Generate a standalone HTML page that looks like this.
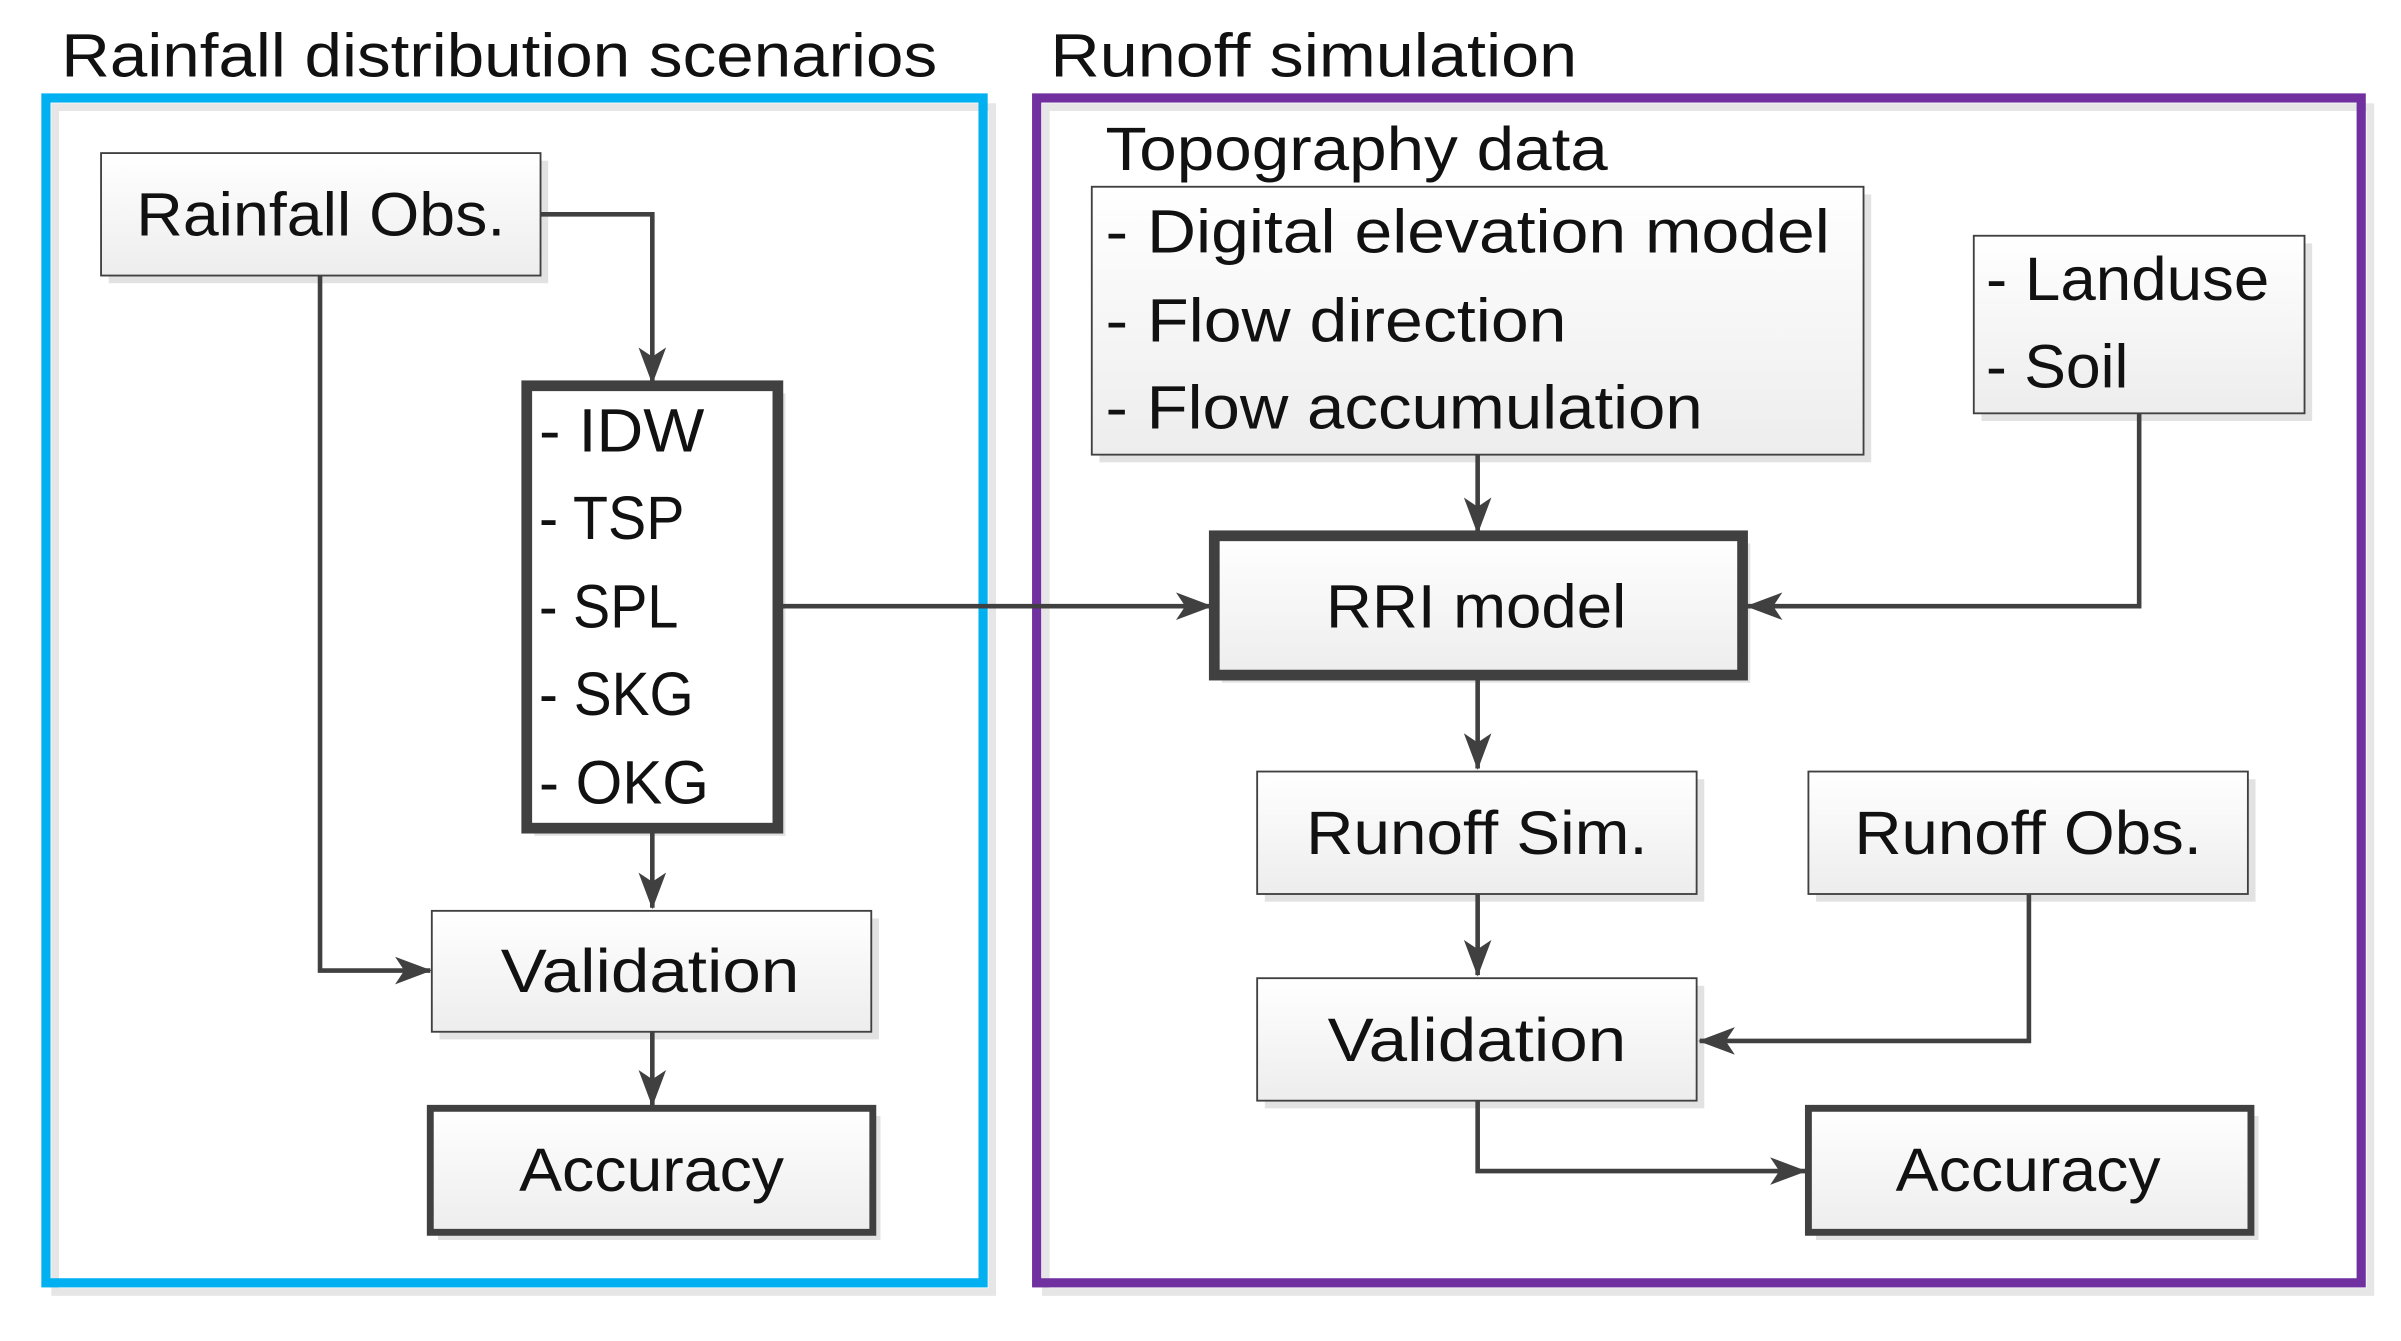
<!DOCTYPE html>
<html><head><meta charset="utf-8"><style>html,body{margin:0;padding:0;background:#fff}svg{display:block}</style></head>
<body>
<svg width="2401" height="1341" viewBox="0 0 1568 876" preserveAspectRatio="none" xmlns="http://www.w3.org/2000/svg" font-family="Liberation Sans, sans-serif" font-size="40" fill="#111">
<defs>
<linearGradient id="g" x1="0" y1="0" x2="0" y2="1"><stop offset="0" stop-color="#ffffff"/><stop offset="1" stop-color="#ededed"/></linearGradient>
<marker id="a" viewBox="0 0 24 18" refX="23" refY="9" markerWidth="24" markerHeight="18" markerUnits="userSpaceOnUse" orient="auto"><path d="M0,0 L24,9 L0,18 L6,9 Z" fill="#404040"/></marker>
</defs>
<text x="40" y="50" font-size="40" textLength="572" lengthAdjust="spacingAndGlyphs">Rainfall distribution scenarios</text>
<text x="686" y="50" font-size="40" textLength="344" lengthAdjust="spacingAndGlyphs">Runoff simulation</text>
<rect x="36" y="70" width="612" height="774" fill="none" stroke="#e6e6e6" stroke-width="5"/>
<rect x="30" y="64" width="612" height="774" fill="none" stroke="#00b0f0" stroke-width="6"/>
<rect x="683" y="70" width="865" height="774" fill="none" stroke="#e6e6e6" stroke-width="5"/>
<rect x="677" y="64" width="865" height="774" fill="none" stroke="#7030a0" stroke-width="6"/>
<g fill="#e2e2e2">
<rect x="71" y="105" width="287" height="80"/>
<rect x="349" y="257" width="164" height="289"/>
<rect x="287" y="600" width="287" height="79"/>
<rect x="286" y="729" width="289" height="81"/>
<rect x="718" y="127" width="504" height="175"/>
<rect x="1294" y="159" width="216" height="116"/>
<rect x="798" y="355" width="345" height="91"/>
<rect x="826" y="509" width="287" height="80"/>
<rect x="1186" y="509" width="287" height="80"/>
<rect x="826" y="644" width="287" height="80"/>
<rect x="1186" y="729" width="289" height="81"/>
</g>
<g fill="url(#g)" stroke="#404040">
<rect x="66" y="100" width="287" height="80" stroke-width="1.2"/>
<rect x="344" y="252" width="164" height="289" stroke-width="7" fill="#fff"/>
<rect x="282" y="595" width="287" height="79" stroke-width="1.2"/>
<rect x="281" y="724" width="289" height="81" stroke-width="4.5"/>
<rect x="713" y="122" width="504" height="175" stroke-width="1.2"/>
<rect x="1289" y="154" width="216" height="116" stroke-width="1.2"/>
<rect x="793" y="350" width="345" height="91" stroke-width="7"/>
<rect x="821" y="504" width="287" height="80" stroke-width="1.2"/>
<rect x="1181" y="504" width="287" height="80" stroke-width="1.2"/>
<rect x="821" y="639" width="287" height="80" stroke-width="1.2"/>
<rect x="1181" y="724" width="289" height="81" stroke-width="4.5"/>
</g>
<g fill="none" stroke="#404040" stroke-width="3" marker-end="url(#a)">
<path d="M353,140 H426 V250"/>
<path d="M209,180 V634 H281"/>
<path d="M426,541 V593"/>
<path d="M426,674 V722"/>
<path d="M508,396 H791"/>
<path d="M965,297 V348"/>
<path d="M1397,270 V396 H1141"/>
<path d="M965,441 V502"/>
<path d="M965,584 V637"/>
<path d="M1325,584 V680 H1110"/>
<path d="M965,719 V765 H1179"/>
</g>
<g>
<text x="89" y="154" textLength="241" lengthAdjust="spacingAndGlyphs">Rainfall Obs.</text>
<text x="352" y="295" textLength="108" lengthAdjust="spacingAndGlyphs">- IDW</text>
<text x="352" y="352" textLength="95" lengthAdjust="spacingAndGlyphs">- TSP</text>
<text x="352" y="410" textLength="91" lengthAdjust="spacingAndGlyphs">- SPL</text>
<text x="352" y="467" textLength="101" lengthAdjust="spacingAndGlyphs">- SKG</text>
<text x="352" y="525" textLength="111" lengthAdjust="spacingAndGlyphs">- OKG</text>
<text x="327" y="648" textLength="195" lengthAdjust="spacingAndGlyphs">Validation</text>
<text x="339" y="778" textLength="173" lengthAdjust="spacingAndGlyphs">Accuracy</text>
<text x="722" y="111" textLength="328" lengthAdjust="spacingAndGlyphs">Topography data</text>
<text x="722" y="165" textLength="473" lengthAdjust="spacingAndGlyphs">- Digital elevation model</text>
<text x="722" y="223" textLength="301" lengthAdjust="spacingAndGlyphs">- Flow direction</text>
<text x="722" y="280" textLength="390" lengthAdjust="spacingAndGlyphs">- Flow accumulation</text>
<text x="1297" y="196" textLength="185" lengthAdjust="spacingAndGlyphs">- Landuse</text>
<text x="1297" y="253" textLength="93" lengthAdjust="spacingAndGlyphs">- Soil</text>
<text x="866" y="410" textLength="196" lengthAdjust="spacingAndGlyphs">RRI model</text>
<text x="853" y="558" textLength="223" lengthAdjust="spacingAndGlyphs">Runoff Sim.</text>
<text x="1211" y="558" textLength="227" lengthAdjust="spacingAndGlyphs">Runoff Obs.</text>
<text x="867" y="693" textLength="195" lengthAdjust="spacingAndGlyphs">Validation</text>
<text x="1238" y="778" textLength="173" lengthAdjust="spacingAndGlyphs">Accuracy</text>
</g>
</svg>
</body></html>
